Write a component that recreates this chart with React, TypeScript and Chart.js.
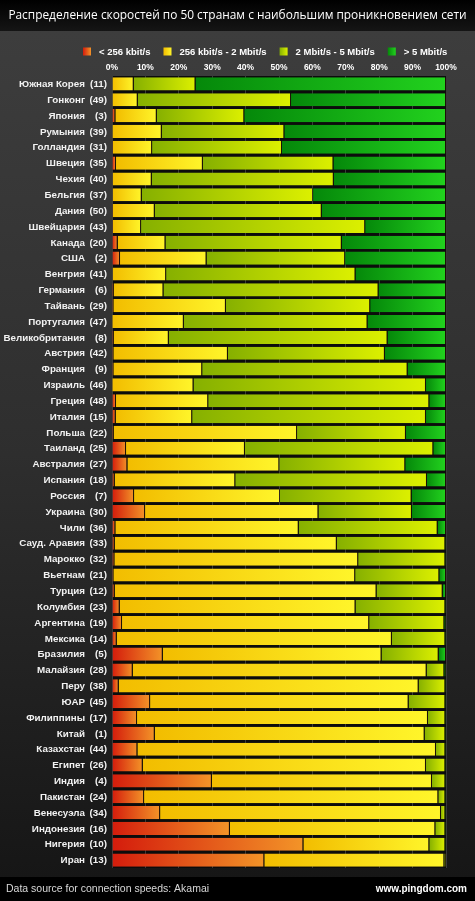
import React, { useEffect, useRef } from "react";
import { Chart, registerables } from "chart.js";

Chart.register(...registerables);

const TITLE = "Распределение скоростей по 50 странам с наибольшим проникновением сети";
const FOOTER_LEFT = "Data source for connection speeds: Akamai";
const FOOTER_RIGHT = "www.pingdom.com";

const seriesLabels = ["< 256 kbit/s", "256 kbit/s - 2 Mbit/s", "2 Mbit/s - 5 Mbit/s", "> 5 Mbit/s"];

const countries = [
  "Южная Корея", "Гонконг", "Япония", "Румыния", "Голландия", "Швеция", "Чехия", "Бельгия", "Дания", "Швейцария",
  "Канада", "США", "Венгрия", "Германия", "Тайвань", "Португалия", "Великобритания", "Австрия", "Франция", "Израиль",
  "Греция", "Италия", "Польша", "Таиланд", "Австралия", "Испания", "Россия", "Украина", "Чили", "Сауд. Аравия",
  "Марокко", "Вьетнам", "Турция", "Колумбия", "Аргентина", "Мексика", "Бразилия", "Малайзия", "Перу", "ЮАР",
  "Филиппины", "Китай", "Казахстан", "Египет", "Индия", "Пакистан", "Венесуэла", "Индонезия", "Нигерия", "Иран",
];

const ranks = [
  11, 49, 3, 39, 31, 35, 40, 37, 50, 43,
  20, 2, 41, 6, 29, 47, 8, 42, 9, 46,
  48, 15, 22, 25, 27, 18, 7, 30, 36, 33,
  32, 21, 12, 23, 19, 14, 5, 28, 38, 45,
  17, 1, 44, 26, 4, 24, 34, 16, 10, 13,
];

const under256k = [
  0, 0, 1, 0, 0.3, 1.2, 0.2, 0.2, 0.3, 0.3,
  1.7, 2.4, 0.2, 0.5, 0.4, 0.1, 0.5, 0.4, 0.4, 0.1,
  1.2, 1.1, 0.5, 4.2, 4.6, 0.8, 6.6, 9.9, 1, 0.8,
  0.7, 0.4, 0.8, 2.3, 3, 1.4, 15.2, 6.2, 2, 11.4,
  7.5, 12.8, 7.6, 9.2, 29.9, 9.6, 14.4, 35.3, 57.3, 45.6,
];

const from256kTo2M = [
  6.5, 7.7, 12.4, 14.9, 11.7, 26, 11.7, 8.7, 12.5, 8.4,
  14.3, 25.9, 16, 14.9, 33.7, 21.4, 16.5, 34.3, 26.6, 24.3,
  27.6, 22.9, 54.9, 35.6, 45.5, 36.1, 43.7, 51.9, 54.9, 66.5,
  73, 72.4, 78.4, 70.6, 74, 82.4, 65.5, 88, 89.8, 77.4,
  87.1, 80.8, 89.4, 84.8, 65.9, 88.1, 84.1, 61.5, 37.7, 53.9,
];

const from2MTo5M = [
  18.5, 45.9, 26.2, 36.7, 38.9, 39.1, 54.5, 51.3, 50, 67.1,
  52.8, 41.5, 56.7, 64.4, 43.2, 55, 65.5, 47, 61.5, 69.6,
  66.2, 70, 32.6, 56.4, 37.7, 57.4, 39.4, 28, 41.6, 32.5,
  26.1, 25.2, 19.8, 26.9, 22.5, 16, 17.1, 5.3, 8, 11,
  5.2, 6.2, 2.8, 5.8, 4, 2.1, 1.3, 3, 4.8, 0.5,
];

const over5M = [
  75, 46.4, 60.4, 48.4, 49.1, 33.7, 33.6, 39.8, 37.2, 24.2,
  31.2, 30.2, 27.1, 20.2, 22.7, 23.5, 17.5, 18.3, 11.5, 6,
  5, 6, 12, 3.8, 12.2, 5.7, 10.3, 10.2, 2.5, 0.2,
  0.2, 2, 1, 0.2, 0.5, 0.2, 2.2, 0.5, 0.2, 0.2,
  0.2, 0.2, 0.2, 0.2, 0.2, 0.2, 0.2, 0.2, 0.2, 0,
];

const xTicks = [0, 10, 20, 30, 40, 50, 60, 70, 80, 90, 100];

const series = [under256k, from256kTo2M, from2MTo5M, over5M];
const gradStops = [
  ["#d41c0c", "#f39428"],
  ["#f2bd00", "#fff52a"],
  ["#86b000", "#dcf000"],
  ["#05880a", "#22d21e"],
];
const solid = ["#e5501a", "#f8dc10", "#b4d400", "#10b010"];

const FONT = "'Liberation Sans', Arial, sans-serif";

function segmentColor(ctx: any) {
  const ds = ctx.datasetIndex;
  if (ctx.type !== "data") return solid[ds];
  const chart = ctx.chart;
  const xs = chart.scales && chart.scales.x;
  if (!chart.chartArea || !xs) return solid[ds];
  const i = ctx.dataIndex;
  let start = 0;
  for (let k = 0; k < ds; k++) start += series[k][i];
  const end = start + series[ds][i];
  const x0 = xs.getPixelForValue(start);
  const x1 = xs.getPixelForValue(end);
  if (x1 - x0 < 1) return gradStops[ds][0];
  const g = chart.ctx.createLinearGradient(x0, 0, x1, 0);
  g.addColorStop(0, gradStops[ds][0]);
  g.addColorStop(1, gradStops[ds][1]);
  return g;
}

const framePlugin = {
  id: "frame",
  beforeDraw(chart: any) {
    const { ctx, width, height, chartArea } = chart;
    ctx.save();
    const bg = ctx.createLinearGradient(0, 31, 0, 878);
    bg.addColorStop(0, "#3d3d3d");
    bg.addColorStop(0.5, "#2e2e2e");
    bg.addColorStop(1, "#161616");
    ctx.fillStyle = bg;
    ctx.fillRect(0, 0, width, height);
    const tb = ctx.createLinearGradient(0, 0, 0, 31);
    tb.addColorStop(0, "#000");
    tb.addColorStop(1, "#151515");
    ctx.fillStyle = tb;
    ctx.fillRect(0, 0, width, 31);
    ctx.fillStyle = "#000";
    ctx.fillRect(0, 877, width, height - 877);
    ctx.fillStyle = "#0c0c0c";
    ctx.fillRect(chartArea.left, chartArea.top, chartArea.right - chartArea.left, chartArea.bottom - chartArea.top);
    ctx.restore();
  },
  afterDraw(chart: any) {
    const { ctx, width } = chart;
    const ys = chart.scales.y;
    ctx.save();
    // title, sized to span the band like the reference
    let fs = 14;
    ctx.font = fs + "px 'Open Sans', sans-serif";
    const w = ctx.measureText(TITLE).width;
    if (w > 459) {
      fs = (fs * 459) / w;
      ctx.font = fs + "px 'Open Sans', sans-serif";
    }
    ctx.fillStyle = "#ffffff";
    ctx.textAlign = "center";
    ctx.textBaseline = "middle";
    ctx.fillText(TITLE, width / 2, 16);
    // legend
    ctx.font = "bold 9.5px " + FONT;
    ctx.textAlign = "left";
    let lx = 83;
    seriesLabels.forEach((lab, k) => {
      const g = ctx.createLinearGradient(lx, 0, lx + 8, 0);
      g.addColorStop(0, gradStops[k][0]);
      g.addColorStop(1, gradStops[k][1]);
      ctx.fillStyle = g;
      ctx.fillRect(lx, 47.5, 8, 8);
      ctx.fillStyle = "#ffffff";
      ctx.fillText(lab, lx + 16, 52);
      lx += 16 + ctx.measureText(lab).width + 13;
    });
    // row labels
    ctx.font = "bold 9.8px " + FONT;
    ctx.textAlign = "right";
    ctx.fillStyle = "#f2f2f2";
    countries.forEach((name, i) => {
      const y = ys.getPixelForValue(i);
      ctx.fillText(name, 85, y + 0.5);
      ctx.fillText("(" + ranks[i] + ")", 107, y + 0.5);
    });
    // footer
    ctx.textBaseline = "middle";
    ctx.textAlign = "left";
    ctx.fillStyle = "#d8d8d8";
    ctx.font = "10.5px " + FONT;
    ctx.fillText(FOOTER_LEFT, 6, 889);
    ctx.textAlign = "right";
    ctx.fillStyle = "#ffffff";
    ctx.font = "bold 10px " + FONT;
    ctx.fillText(FOOTER_RIGHT, 467, 889);
    ctx.restore();
  },
};

export default function App() {
  const ref = useRef<HTMLCanvasElement>(null);
  useEffect(() => {
    document.body.style.margin = "0";
    const canvas = ref.current;
    if (!canvas) return;
    const chart = new Chart(canvas, {
      type: "bar",
      data: {
        labels: countries,
        datasets: series.map((data, k) => ({
          label: seriesLabels[k],
          data,
          backgroundColor: segmentColor,
          borderColor: "rgba(40,20,0,0.55)",
          borderWidth: { left: 0, right: 1, top: 0, bottom: 0 },
          borderSkipped: false,
          barPercentage: 0.83,
          categoryPercentage: 1,
        })),
      },
      options: {
        indexAxis: "y",
        responsive: false,
        devicePixelRatio: 1,
        animation: false,
        events: [],
        layout: { padding: { top: 62, left: 112, right: 29, bottom: 33 } },
        plugins: {
          legend: { display: false },
          title: { display: false },
          tooltip: { enabled: false },
        },
        scales: {
          x: {
            type: "linear",
            position: "top",
            stacked: true,
            min: 0,
            max: 100,
            afterBuildTicks: (scale: any) => {
              scale.ticks = xTicks.map((v) => ({ value: v }));
            },
            afterFit: (scale: any) => {
              scale.height = 14;
            },
            ticks: {
              color: "#ffffff",
              font: { family: FONT, size: 8.5, weight: "bold" },
              padding: 3,
              callback: (v: any) => v + "%",
            },
            grid: { color: "#3a3a3a", lineWidth: 1, drawTicks: false },
            border: { display: false },
          },
          y: {
            type: "category",
            stacked: true,
            display: false,
          },
        },
      },
      plugins: [framePlugin],
    } as any);
    return () => chart.destroy();
  }, []);
  return <canvas ref={ref} width={475} height={901} style={{ display: "block" }} />;
}
